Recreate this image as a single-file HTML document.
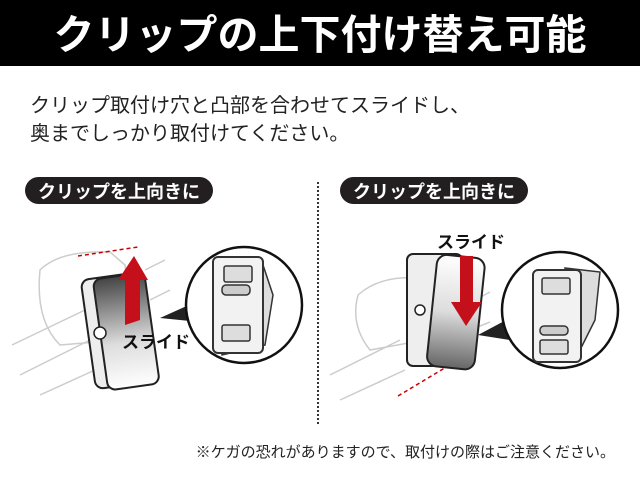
<!DOCTYPE html>
<html><head><meta charset="utf-8"><style>
body{margin:0;background:#fff;}
svg{display:block;font-family:"Liberation Sans","Noto Sans CJK JP",sans-serif;}
</style></head><body>
<svg width="640" height="480" viewBox="0 0 640 480" xmlns="http://www.w3.org/2000/svg">
<defs>
<linearGradient id="g" x1="0" y1="0" x2="0" y2="1"><stop offset="0" stop-color="#444"/><stop offset="0.6" stop-color="#ddd"/><stop offset="1" stop-color="#fff"/></linearGradient>
<linearGradient id="g2" x1="0" y1="0" x2="0" y2="1"><stop offset="0" stop-color="#fff"/><stop offset="0.5" stop-color="#ddd"/><stop offset="1" stop-color="#666"/></linearGradient>
</defs>
<rect x="0" y="0" width="640" height="66" fill="#000"/>
<text x="320" y="49" fill="#fff" font-size="41" font-weight="bold" text-anchor="middle">クリップの上下付け替え可能</text>
<text x="30" y="112" font-size="20" fill="#222">クリップ取付け穴と凸部を合わせてスライドし、</text>
<text x="30" y="140" font-size="20" fill="#222">奥までしっかり取付けてください。</text>
<rect x="25" y="177" width="188" height="27" rx="13.5" fill="#231f20"/>
<text x="119" y="198" font-size="18" font-weight="bold" fill="#fff" text-anchor="middle">クリップを上向きに</text>
<rect x="340" y="177" width="188" height="27" rx="13.5" fill="#231f20"/>
<text x="434" y="198" font-size="18" font-weight="bold" fill="#fff" text-anchor="middle">クリップを上向きに</text>
<line x1="318" y1="182" x2="318" y2="425" stroke="#333" stroke-width="2" stroke-dasharray="2,2"/>
<g fill="none" stroke="#ccc" stroke-width="1.5">
<path d="M40 270 Q60 250 110 252 L125 265 Q130 300 120 340 L60 345 Q35 320 40 270Z"/>
<path d="M12 345 L85 310 M20 375 L90 340 M40 395 L95 370"/>
<path d="M145 270 L165 260 M150 300 L170 290"/>
</g>
<line x1="78" y1="256" x2="138" y2="247" stroke="#c00" stroke-width="1.5" stroke-dasharray="4,3"/>
<g transform="rotate(-8 122 330)">
<rect x="88" y="275" width="58" height="110" rx="8" fill="#eee" stroke="#222" stroke-width="2"/>
<rect x="100" y="276" width="52" height="112" rx="8" fill="url(#g)" stroke="#222" stroke-width="2"/>
</g>
<circle cx="100" cy="333" r="6" fill="#fff" stroke="#222" stroke-width="1.5"/>
<polygon points="125,325 125,280 118,280 134,256 148,280 140,280 140,320" fill="#c4101a"/>
<text x="122" y="348" font-size="17" font-weight="bold" fill="#111">スライド</text>
<polygon points="160,318 200,300 200,322" fill="#222"/>
<circle cx="244" cy="305" r="58" fill="#fff" stroke="#111" stroke-width="2.5"/>
<path d="M218 262 L262 262 L273 295 L265 345 L222 355 Z" fill="#ddd" stroke="#333" stroke-width="1.5"/>
<rect x="213" y="257" width="50" height="96" rx="5" fill="#f2f2f2" stroke="#333" stroke-width="2"/>
<rect x="224" y="266" width="28" height="16" rx="2" fill="#ddd" stroke="#333" stroke-width="1.5"/>
<rect x="222" y="285" width="28" height="10" rx="4" fill="#ccc" stroke="#333" stroke-width="1.5"/>
<rect x="222" y="325" width="28" height="16" rx="2" fill="#ddd" stroke="#333" stroke-width="1.5"/>
<g fill="none" stroke="#ccc" stroke-width="1.5">
<path d="M358 295 Q380 275 420 278 L425 340 L370 350 Q350 325 358 295Z"/>
<path d="M330 375 L400 340 M340 400 L405 370"/>
<path d="M475 300 L490 292 M470 330 L490 322"/>
</g>
<line x1="398" y1="396" x2="458" y2="360" stroke="#c00" stroke-width="1.5" stroke-dasharray="4,3"/>
<rect x="407" y="254" width="55" height="112" rx="6" fill="#eee" stroke="#222" stroke-width="2"/>
<g transform="rotate(6 445 310)">
<rect x="432" y="255" width="48" height="112" rx="10" fill="url(#g2)" stroke="#222" stroke-width="2"/>
</g>
<circle cx="420" cy="310" r="5" fill="#fff" stroke="#222" stroke-width="1.5"/>
<polygon points="460,256 473,256 473,302 482,302 466,326 451,302 460,302" fill="#c4101a"/>
<text x="437" y="248" font-size="17" font-weight="bold" fill="#111">スライド</text>
<polygon points="478,335 510,318 510,340" fill="#222"/>
<circle cx="560" cy="310" r="58" fill="#fff" stroke="#111" stroke-width="2.5"/>
<path d="M565 268 L600 272 L595 320 L575 360 Z" fill="#ddd" stroke="#333" stroke-width="1.5"/>
<rect x="533" y="270" width="48" height="92" rx="5" fill="#f2f2f2" stroke="#333" stroke-width="2"/>
<rect x="542" y="278" width="28" height="16" rx="2" fill="#ddd" stroke="#333" stroke-width="1.5"/>
<rect x="540" y="326" width="28" height="9" rx="4" fill="#ccc" stroke="#333" stroke-width="1.5"/>
<rect x="540" y="340" width="28" height="14" rx="2" fill="#ddd" stroke="#333" stroke-width="1.5"/>
<text x="615" y="457" font-size="15" fill="#222" text-anchor="end">※ケガの恐れがありますので、取付けの際はご注意ください。</text>
</svg>
</body></html>
